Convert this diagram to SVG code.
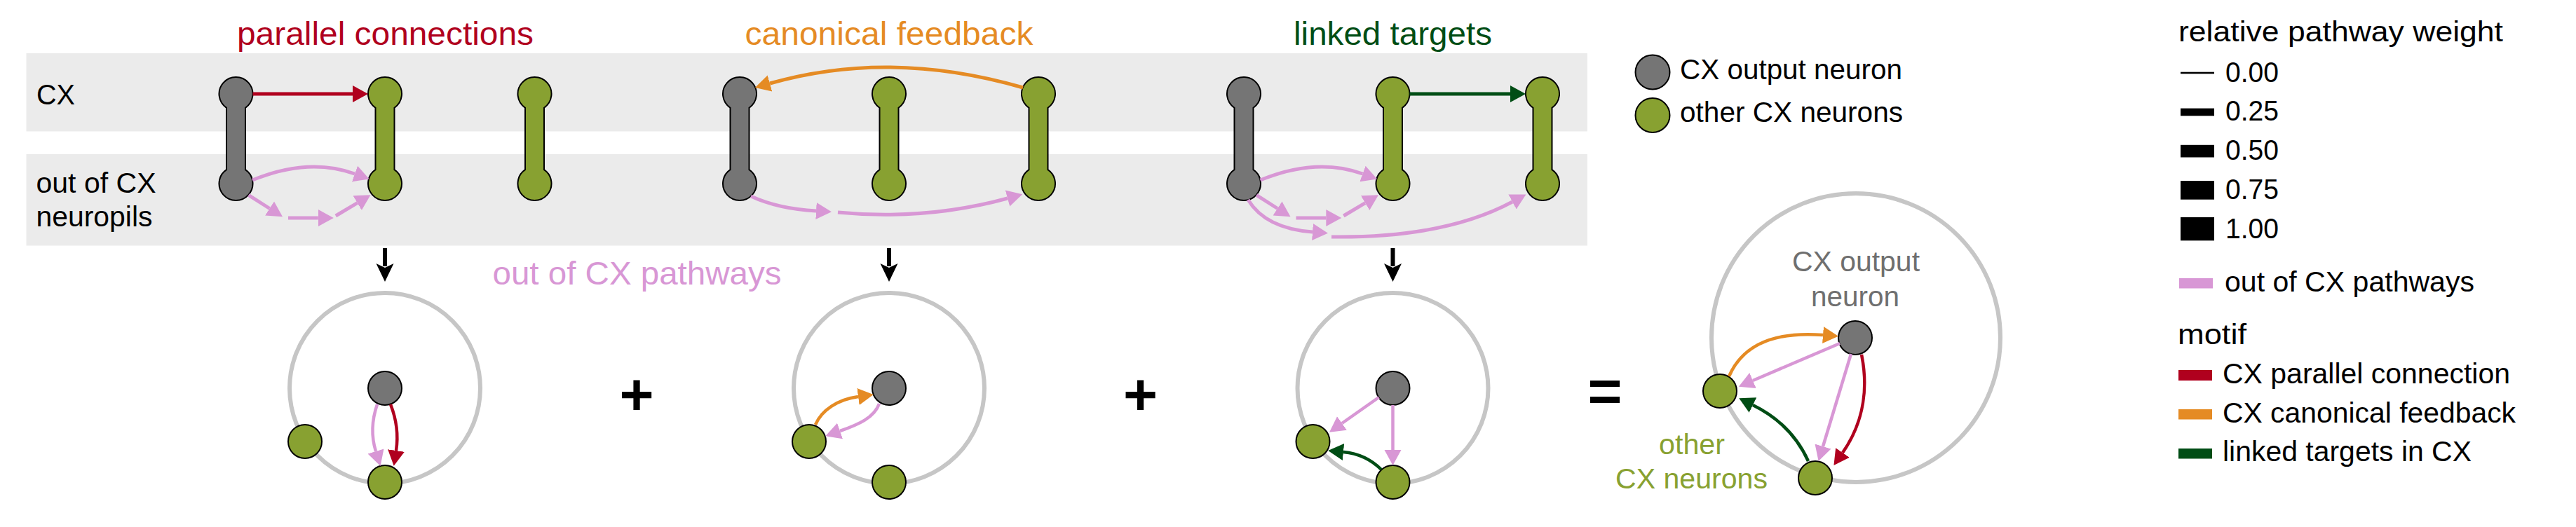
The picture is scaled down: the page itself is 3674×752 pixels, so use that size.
<svg xmlns="http://www.w3.org/2000/svg" width="3674" height="752" viewBox="0 0 3674 752">
<style>
text{font-family:"Liberation Sans",Arial,sans-serif;fill:#000}
.t40{font-size:40px}
.title{font-size:47px}
.band{fill:#ebebeb}
.gray{fill:#757575;stroke:#000;stroke-width:2}
.green{fill:#88a131;stroke:#000;stroke-width:2}
.ring{fill:none;stroke:#c6c6c6;stroke-width:6}
.pk{fill:none;stroke:#d897d5;stroke-width:5}
.rd{fill:none;stroke:#b0001e;stroke-width:5}
.or{fill:none;stroke:#e58b24;stroke-width:5}
.dg{fill:none;stroke:#004d15;stroke-width:5}
.bk{fill:none;stroke:#000;stroke-width:6}
.pkc{fill:none;stroke:#d897d5;stroke-width:4.5}
.rdc{fill:none;stroke:#b0001e;stroke-width:4.5}
.orc{fill:none;stroke:#e58b24;stroke-width:4.5}
.dgc{fill:none;stroke:#004d15;stroke-width:4.5}
</style>
<defs>
<marker id="mpk" markerUnits="userSpaceOnUse" viewBox="0 -13 24 26" markerWidth="24" markerHeight="26" refX="0" refY="0" orient="auto"><path d="M0,-12 L22,0 L0,12 Z" fill="#d897d5"/></marker>
<marker id="mrd" markerUnits="userSpaceOnUse" viewBox="0 -13 24 26" markerWidth="24" markerHeight="26" refX="0" refY="0" orient="auto"><path d="M0,-12 L22,0 L0,12 Z" fill="#b0001e"/></marker>
<marker id="mor" markerUnits="userSpaceOnUse" viewBox="0 -13 24 26" markerWidth="24" markerHeight="26" refX="0" refY="0" orient="auto"><path d="M0,-12 L22,0 L0,12 Z" fill="#e58b24"/></marker>
<marker id="mdg" markerUnits="userSpaceOnUse" viewBox="0 -13 24 26" markerWidth="24" markerHeight="26" refX="0" refY="0" orient="auto"><path d="M0,-12 L22,0 L0,12 Z" fill="#004d15"/></marker>
<marker id="mbk" markerUnits="userSpaceOnUse" viewBox="-6 -13 30 26" markerWidth="30" markerHeight="26" refX="0" refY="0" orient="auto"><path d="M-4,-12.5 L22,0 L-4,12.5 L2,0 Z" fill="#000"/></marker>
</defs>

<g id="bands">
<rect class="band" x="37.5" y="76" width="2226.5" height="111.5"/>
<rect class="band" x="37.5" y="220" width="2226.5" height="130.5"/>
</g>

<g id="labels">
<text class="title" x="549.5" y="63.5" text-anchor="middle" style="fill:#b0001e" textLength="423" lengthAdjust="spacingAndGlyphs">parallel connections</text>
<text class="title" x="1268" y="63.5" text-anchor="middle" style="fill:#e58b24" textLength="411" lengthAdjust="spacingAndGlyphs">canonical feedback</text>
<text class="title" x="1986.5" y="63.5" text-anchor="middle" style="fill:#004d15" textLength="283" lengthAdjust="spacingAndGlyphs">linked targets</text>
<text class="t40" x="52" y="149.3" textLength="55" lengthAdjust="spacingAndGlyphs">CX</text>
<text class="t40" x="51.5" y="275" textLength="171" lengthAdjust="spacingAndGlyphs">out of CX</text>
<text class="t40" x="51.5" y="323.3" textLength="166" lengthAdjust="spacingAndGlyphs">neuropils</text>
<text x="702.5" y="406" style="font-size:46px;fill:#d897d5" textLength="412" lengthAdjust="spacingAndGlyphs">out of CX pathways</text>
<text x="908" y="592" text-anchor="middle" style="font-size:84px;font-weight:bold">+</text>
<text x="1626.5" y="592" text-anchor="middle" style="font-size:84px;font-weight:bold">+</text>
<text x="2289" y="587" text-anchor="middle" style="font-size:84px;font-weight:bold">=</text>
<text class="t40" x="2647" y="386.7" text-anchor="middle" style="fill:#6f6f6f" textLength="182" lengthAdjust="spacingAndGlyphs">CX output</text>
<text class="t40" x="2646" y="436.7" text-anchor="middle" style="fill:#6f6f6f" textLength="126" lengthAdjust="spacingAndGlyphs">neuron</text>
<text class="t40" x="2413" y="648" text-anchor="middle" style="fill:#88a131" textLength="94" lengthAdjust="spacingAndGlyphs">other</text>
<text class="t40" x="2412.5" y="696.7" text-anchor="middle" style="fill:#88a131" textLength="217" lengthAdjust="spacingAndGlyphs">CX neurons</text>
</g>

<g id="rings">
<circle class="ring" cx="549" cy="554" r="136"/>
<circle class="ring" cx="1268" cy="554" r="136"/>
<circle class="ring" cx="1986.5" cy="554" r="136"/>
<circle class="ring" cx="2647" cy="482" r="206"/>
</g>

<g id="n1"><path class="gray" d="M323,153.84 A24,24 0 1 1 350,153.84 L350,242.16 A24,24 0 1 1 323,242.16 Z"/></g>
<g id="n2"><path class="green" d="M535.5,153.84 A24,24 0 1 1 562.5,153.84 L562.5,242.16 A24,24 0 1 1 535.5,242.16 Z"/></g>
<g id="n3"><path class="green" d="M749,153.84 A24,24 0 1 1 776,153.84 L776,242.16 A24,24 0 1 1 749,242.16 Z"/></g>
<g id="n4"><path class="gray" d="M1041.5,153.84 A24,24 0 1 1 1068.5,153.84 L1068.5,242.16 A24,24 0 1 1 1041.5,242.16 Z"/></g>
<g id="n5"><path class="green" d="M1254.5,153.84 A24,24 0 1 1 1281.5,153.84 L1281.5,242.16 A24,24 0 1 1 1254.5,242.16 Z"/></g>
<g id="n6"><path class="green" d="M1467.5,153.84 A24,24 0 1 1 1494.5,153.84 L1494.5,242.16 A24,24 0 1 1 1467.5,242.16 Z"/></g>
<g id="n7"><path class="gray" d="M1760.5,153.84 A24,24 0 1 1 1787.5,153.84 L1787.5,242.16 A24,24 0 1 1 1760.5,242.16 Z"/></g>
<g id="n8"><path class="green" d="M1973,153.84 A24,24 0 1 1 2000,153.84 L2000,242.16 A24,24 0 1 1 1973,242.16 Z"/></g>
<g id="n9"><path class="green" d="M2186.5,153.84 A24,24 0 1 1 2213.5,153.84 L2213.5,242.16 A24,24 0 1 1 2186.5,242.16 Z"/></g>

<g id="c1-out"><circle class="gray" cx="549" cy="554" r="24"/></g>
<g id="c1-left"><circle class="green" cx="435" cy="630" r="24"/></g>
<g id="c1-bottom"><circle class="green" cx="549" cy="688" r="24"/></g>
<g id="c2-out"><circle class="gray" cx="1268" cy="554" r="24"/></g>
<g id="c2-left"><circle class="green" cx="1154" cy="630" r="24"/></g>
<g id="c2-bottom"><circle class="green" cx="1268" cy="688" r="24"/></g>
<g id="c3-out"><circle class="gray" cx="1986.5" cy="554" r="24"/></g>
<g id="c3-left"><circle class="green" cx="1872.5" cy="630" r="24"/></g>
<g id="c3-bottom"><circle class="green" cx="1986.5" cy="688" r="24"/></g>
<g id="c4-out"><circle class="gray" cx="2646" cy="482" r="24"/></g>
<g id="c4-left"><circle class="green" cx="2453" cy="558" r="24"/></g>
<g id="c4-bottom"><circle class="green" cx="2589" cy="682" r="24"/></g>

<g id="connectors">
<path class="rd" d="M360.5,134 L503,134" marker-end="url(#mrd)"/>
<path class="pk" d="M360,257 Q440,224 506,248" marker-end="url(#mpk)"/>
<path class="pk" d="M354.5,278.3 L384.5,297.5" marker-end="url(#mpk)"/>
<path class="pk" d="M411,311 L453.8,311" marker-end="url(#mpk)"/>
<path class="pk" d="M478.8,308 L509.6,289.6" marker-end="url(#mpk)"/>

<path class="or" d="M1459,125 Q1270,70 1098,119" marker-end="url(#mor)"/>
<path class="pk" d="M1071,280 Q1110,298 1164,301" marker-end="url(#mpk)"/>
<path class="pk" d="M1195,303 Q1320,315 1437,283" marker-end="url(#mpk)"/>

<path class="dg" d="M2010.5,134 L2154,134" marker-end="url(#mdg)"/>
<path class="pk" d="M1797.5,257 Q1877.5,224 1943.5,248" marker-end="url(#mpk)"/>
<path class="pk" d="M1792,278.3 L1822,297.5" marker-end="url(#mpk)"/>
<path class="pk" d="M1848.5,311 L1891.3,311" marker-end="url(#mpk)"/>
<path class="pk" d="M1916.3,308 L1947.1,289.6" marker-end="url(#mpk)"/>
<path class="pk" d="M1780,285 Q1805,326 1872,331" marker-end="url(#mpk)"/>
<path class="pk" d="M1899,338 Q2060,340 2157,288" marker-end="url(#mpk)"/>

<path class="bk" d="M549,354 L549,380" marker-end="url(#mbk)"/>
<path class="bk" d="M1268,354 L1268,380" marker-end="url(#mbk)"/>
<path class="bk" d="M1986.5,354 L1986.5,380" marker-end="url(#mbk)"/>

<path class="pkc" d="M538,577 Q526,612 536,644" marker-end="url(#mpk)"/>
<path class="rdc" d="M557,577 Q570,610 565,643" marker-end="url(#mrd)"/>

<path class="orc" d="M1163,606 C1172,585 1195,570 1224,566" marker-end="url(#mor)"/>
<path class="pkc" d="M1254,576 C1247,596 1224,606 1198,615" marker-end="url(#mpk)"/>

<path class="pkc" d="M1966.5,567 L1914,604" marker-end="url(#mpk)"/>
<path class="pkc" d="M1986.5,578 L1986.5,642" marker-end="url(#mpk)"/>
<path class="dgc" d="M1970,670 Q1948,648 1916,645" marker-end="url(#mdg)"/>

<path class="orc" d="M2466,537 Q2495,470 2600,478" marker-end="url(#mor)"/>
<path class="pkc" d="M2624,490 L2500,543" marker-end="url(#mpk)"/>
<path class="pkc" d="M2640,505 L2600,637" marker-end="url(#mpk)"/>
<path class="rdc" d="M2655,506 C2664,550 2660,600 2628,646" marker-end="url(#mrd)"/>
<path class="dgc" d="M2579,658 Q2555,605 2500,578" marker-end="url(#mdg)"/>
</g>

<g id="legend-neurons">
<circle class="gray" cx="2357" cy="103" r="24.5"/>
<text class="t40" x="2396" y="113.3" textLength="317" lengthAdjust="spacingAndGlyphs">CX output neuron</text>
<circle class="green" cx="2357" cy="164.5" r="24.5"/>
<text class="t40" x="2396" y="174" textLength="318" lengthAdjust="spacingAndGlyphs">other CX neurons</text>
</g>

<g id="legend-weight">
<text class="t40" x="3107" y="59.3" textLength="463" lengthAdjust="spacingAndGlyphs">relative pathway weight</text>
<rect x="3110" y="102.7" width="48" height="2.6"/>
<text class="t40" x="3174" y="116.5" textLength="76" lengthAdjust="spacingAndGlyphs">0.00</text>
<rect x="3110" y="154.6" width="48" height="10.7"/>
<text class="t40" x="3174" y="172.3" textLength="76" lengthAdjust="spacingAndGlyphs">0.25</text>
<rect x="3110" y="206.8" width="48" height="17.7"/>
<text class="t40" x="3174" y="228.1" textLength="76" lengthAdjust="spacingAndGlyphs">0.50</text>
<rect x="3110" y="258" width="48" height="26.7"/>
<text class="t40" x="3174" y="283.9" textLength="76" lengthAdjust="spacingAndGlyphs">0.75</text>
<rect x="3110" y="310" width="48" height="33.3"/>
<text class="t40" x="3174" y="339.7" textLength="76" lengthAdjust="spacingAndGlyphs">1.00</text>
</g>

<g id="legend-motif">
<rect x="3108" y="397" width="48" height="14.5" fill="#d897d5"/>
<text class="t40" x="3173" y="416" textLength="356" lengthAdjust="spacingAndGlyphs">out of CX pathways</text>
<text class="t40" x="3106" y="490.7" textLength="98" lengthAdjust="spacingAndGlyphs">motif</text>
<rect x="3107" y="528" width="48" height="15" fill="#b0001e"/>
<text class="t40" x="3170" y="547" textLength="410" lengthAdjust="spacingAndGlyphs">CX parallel connection</text>
<rect x="3107" y="584" width="48" height="14.5" fill="#e58b24"/>
<text class="t40" x="3170" y="602.7" textLength="418" lengthAdjust="spacingAndGlyphs">CX canonical feedback</text>
<rect x="3107" y="640" width="48" height="14.5" fill="#004d15"/>
<text class="t40" x="3170" y="658" textLength="355" lengthAdjust="spacingAndGlyphs">linked targets in CX</text>
</g>
</svg>
